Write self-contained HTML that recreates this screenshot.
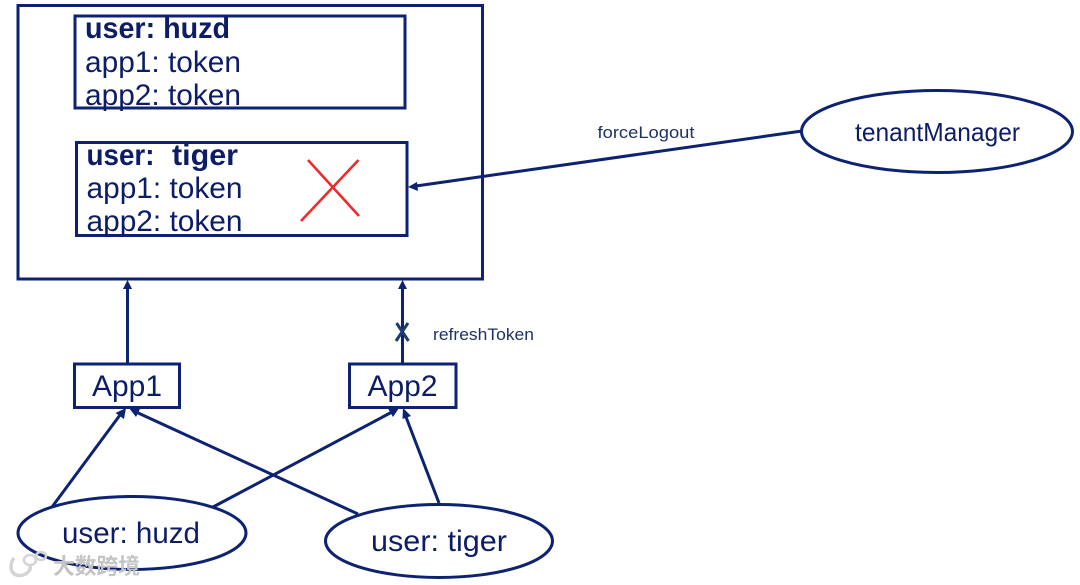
<!DOCTYPE html>
<html>
<head>
<meta charset="utf-8">
<style>
html,body{margin:0;padding:0;background:#fff;width:1080px;height:585px;overflow:hidden}
svg{display:block}
text{font-family:"Liberation Sans","Noto Sans CJK SC",sans-serif;fill:#0d1f66}
</style>
</head>
<body>
<svg width="1080" height="585" viewBox="0 0 1080 585" xmlns="http://www.w3.org/2000/svg">
<defs><filter id="b" x="-5%" y="-5%" width="110%" height="110%"><feGaussianBlur stdDeviation="0.35"/></filter></defs>
<g filter="url(#b)">
<g fill="none" stroke="#0d2270" stroke-width="3">
<rect x="18" y="5.500" width="464.500" height="273.500"/>
<rect x="75" y="16" width="330" height="92"/>
<rect x="76.500" y="142.500" width="330.500" height="93"/>
<rect x="74.500" y="364" width="105" height="43.500"/>
<rect x="349.500" y="364" width="106.500" height="43.500"/>
<ellipse cx="937" cy="131.500" rx="135.500" ry="41"/>
<ellipse cx="132" cy="533" rx="114" ry="36.500"/>
<ellipse cx="439" cy="541" rx="113.500" ry="36.500"/>
<line x1="127.500" y1="364" x2="127.500" y2="288"/>
<line x1="402.500" y1="364" x2="402.500" y2="288"/>
<line x1="802" y1="131" x2="416" y2="186"/>
<line x1="52" y1="507" x2="120" y2="415"/>
<line x1="213" y1="507" x2="392" y2="412"/>
<line x1="358" y1="514" x2="136" y2="412"/>
<line x1="439" y1="503" x2="406" y2="417"/>
</g>
<g fill="#0d2270">
<polygon points="127.500,280 123,289 132,289"/>
<polygon points="402.500,280 398,289 407,289"/>
<polygon points="408,187 417,182 418,191"/>
<polygon points="126,408 124,419 115.500,413"/>
<polygon points="399,408 393,417 388,408.500"/>
<polygon points="129,408 140,409 136,417"/>
<polygon points="403,408 411,416 402.500,419"/>
</g>
<g stroke="#ee2a2a" stroke-width="2.600" fill="none">
<line x1="308" y1="160" x2="359" y2="216"/>
<line x1="358.500" y1="160" x2="301" y2="221"/>
</g>
<g stroke="#1f3b6e" stroke-width="3" fill="none">
<line x1="396.500" y1="323" x2="408.500" y2="341"/>
<line x1="408" y1="323" x2="396" y2="341"/>
</g>
<g font-size="30">
<text x="85" y="38" font-weight="bold" textLength="145" lengthAdjust="spacingAndGlyphs">user: huzd</text>
<text x="85" y="72" textLength="156" lengthAdjust="spacingAndGlyphs">app1: token</text>
<text x="85" y="105" textLength="156" lengthAdjust="spacingAndGlyphs">app2: token</text>
<text x="86.500" y="165" font-weight="bold" textLength="68" lengthAdjust="spacingAndGlyphs">user:</text>
<text x="172" y="165" font-weight="bold" textLength="66" lengthAdjust="spacingAndGlyphs">tiger</text>
<text x="86.500" y="198" textLength="156" lengthAdjust="spacingAndGlyphs">app1: token</text>
<text x="86.500" y="231" textLength="156" lengthAdjust="spacingAndGlyphs">app2: token</text>
<text x="92" y="396" textLength="70" lengthAdjust="spacingAndGlyphs">App1</text>
<text x="367.500" y="396" textLength="70" lengthAdjust="spacingAndGlyphs">App2</text>
<text x="62" y="543" textLength="138" lengthAdjust="spacingAndGlyphs">user: huzd</text>
<text x="371" y="551" textLength="136" lengthAdjust="spacingAndGlyphs">user: tiger</text>
<text x="855" y="141" font-size="26" textLength="165" lengthAdjust="spacingAndGlyphs">tenantManager</text>
</g>
<text x="597.500" y="138" font-size="17" style="fill:#1f3360" textLength="97" lengthAdjust="spacingAndGlyphs">forceLogout</text>
<text x="433" y="340" font-size="17" style="fill:#1f3360" textLength="101" lengthAdjust="spacingAndGlyphs">refreshToken</text>
</g>
<g>
<path d="M14 558 C7 568 13 578 23 575 C29 573 31 569 30 566" fill="none" stroke="#d4d4d4" stroke-width="3.500"/>
<ellipse cx="30" cy="560" rx="6" ry="5" fill="none" stroke="#d4d4d4" stroke-width="2.500"/>
<ellipse cx="41" cy="556" rx="5" ry="4" fill="none" stroke="#d4d4d4" stroke-width="2.500"/>
<text x="53" y="574" font-size="22" font-weight="bold" style="fill:#c4c4c4;font-family:'Noto Sans CJK SC','Liberation Sans',sans-serif" textLength="87" lengthAdjust="spacingAndGlyphs">大数跨境</text>
</g>
</svg>
</body>
</html>
